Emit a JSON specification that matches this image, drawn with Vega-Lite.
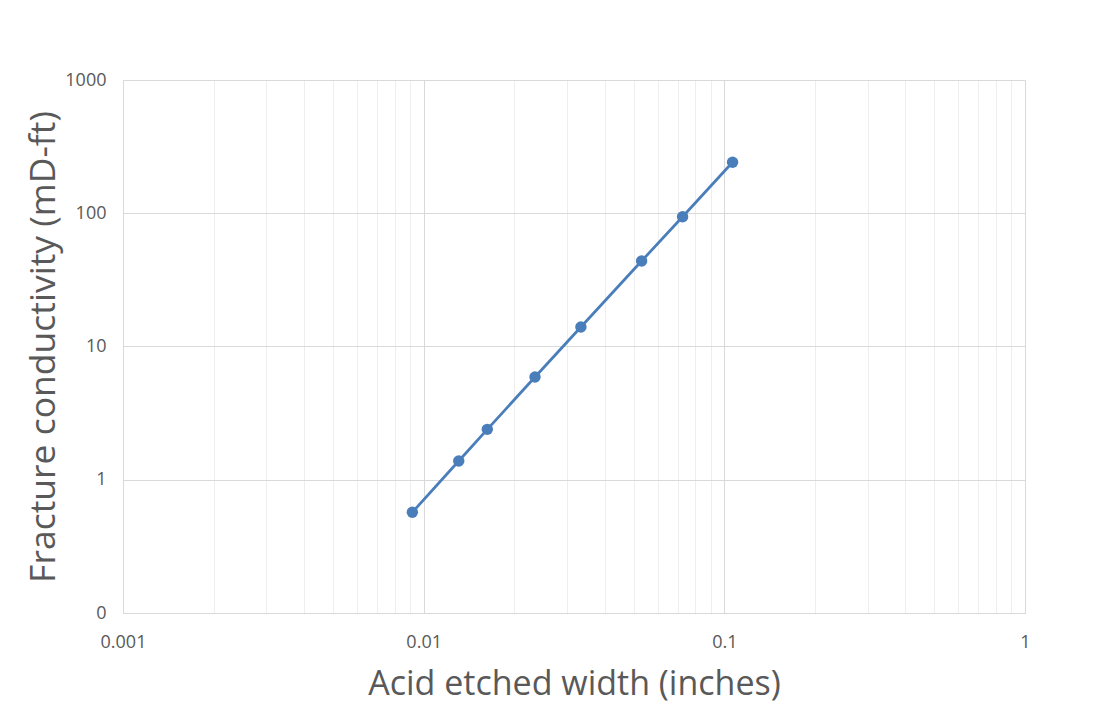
{
  "$schema": "https://vega.github.io/schema/vega-lite/v6.json",
  "width": 902,
  "height": 533,
  "autosize": {"type": "none"},
  "padding": {"left": 123, "top": 80, "right": 74, "bottom": 113},
  "background": "#ffffff",
  "config": {
    "view": {"stroke": null},
    "font": "Open Sans",
    "axis": {
      "labelFont": "Open Sans",
      "titleFont": "Open Sans",
      "labelColor": "#595959",
      "titleColor": "#595959",
      "labelFontSize": 18,
      "titleFontSize": 34,
      "titleFontWeight": "normal",
      "domainColor": "#d9d9d9",
      "domainWidth": 1,
      "ticks": false,
      "gridWidth": 1
    }
  },
  "data": {
    "values": [
      {"width": 0.00917, "conductivity": 0.570},
      {"width": 0.01308, "conductivity": 1.383},
      {"width": 0.01628, "conductivity": 2.39},
      {"width": 0.02346, "conductivity": 5.90},
      {"width": 0.03334, "conductivity": 14.0},
      {"width": 0.05307, "conductivity": 43.8},
      {"width": 0.07264, "conductivity": 94.2},
      {"width": 0.1065, "conductivity": 241.2}
    ]
  },
  "encoding": {
    "x": {
      "field": "width",
      "type": "quantitative",
      "scale": {"type": "log", "domain": [0.001, 1], "nice": false},
      "axis": {
        "title": "Acid etched width (inches)",
        "values": [0.001, 0.002, 0.003, 0.004, 0.005, 0.006, 0.007, 0.008, 0.009, 0.01, 0.02, 0.03, 0.04, 0.05, 0.06, 0.07, 0.08, 0.09, 0.1, 0.2, 0.3, 0.4, 0.5, 0.6, 0.7, 0.8, 0.9, 1],
        "labelExpr": "datum.value == 0.001 || datum.value == 0.01 || datum.value == 0.1 || datum.value == 1 ? format(datum.value, '~g') : ''",
        "gridColor": {
          "condition": {"test": "datum.value == 0.001 || datum.value == 0.01 || datum.value == 0.1 || datum.value == 1", "value": "#d9d9d9"},
          "value": "#eeeeee"
        },
        "labelPadding": 20,
        "titlePadding": 16,
        "labelFlush": false,
        "labelOverlap": false
      }
    },
    "y": {
      "field": "conductivity",
      "type": "quantitative",
      "scale": {"type": "log", "domain": [0.1, 1000], "nice": false},
      "axis": {
        "title": "Fracture conductivity (mD-ft)",
        "titleFontSize": 35.5,
        "values": [0.1, 1, 10, 100, 1000],
        "labelExpr": "datum.value < 1 ? '0' : format(datum.value, 'd')",
        "gridColor": "#d9d9d9",
        "labelPadding": 17,
        "titlePadding": 3,
        "labelFlush": false,
        "labelOverlap": false
      }
    }
  },
  "layer": [
    {"mark": {"type": "line", "color": "#4a7ebb", "strokeWidth": 2.75}},
    {"mark": {"type": "point", "filled": true, "opacity": 1, "color": "#4a7ebb", "size": 130}}
  ]
}
